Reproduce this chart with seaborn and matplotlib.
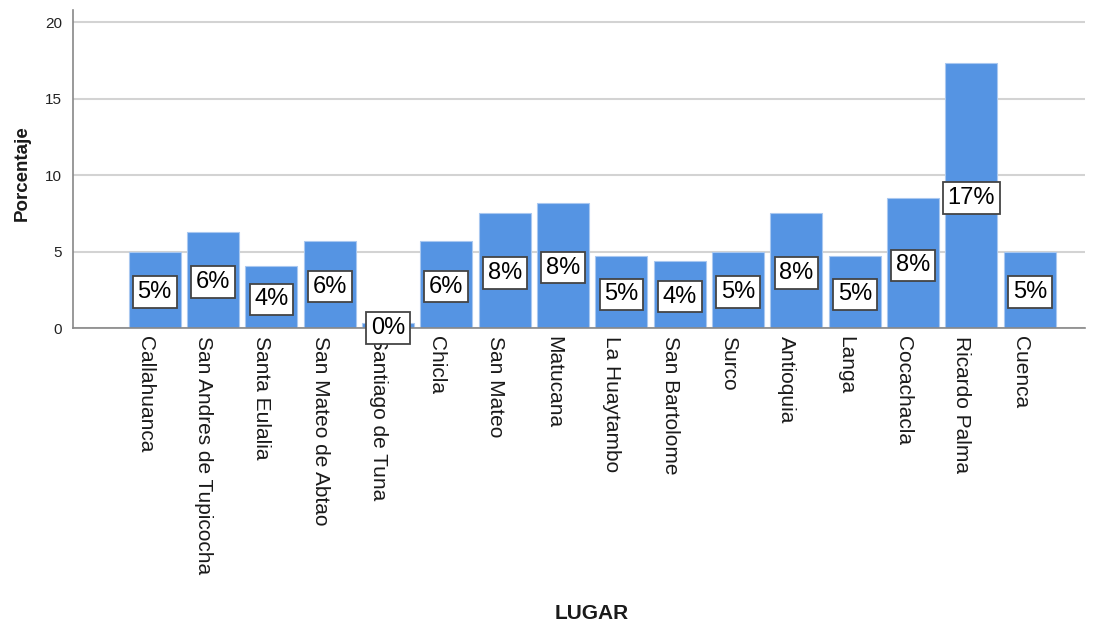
import numpy as np
import pandas as pd
import matplotlib
matplotlib.use('Agg')
import matplotlib.pyplot as plt
import seaborn as sns

# datos
lugares = ['Callahuanca', 'San Andres de Tupicocha', 'Santa Eulalia', 'San Mateo de Abtao',
           'Santiago de Tuna', 'Chicla', 'San Mateo', 'Matucana', 'La Huaytambo',
           'San Bartolome', 'Surco', 'Antioquia', 'Langa', 'Cocachacla', 'Ricardo Palma', 'Cuenca']
porcentaje = [5.0, 6.3, 4.05, 5.7, 0.3, 5.7, 7.5, 8.2, 4.7, 4.4, 5.0, 7.5, 4.7, 8.5, 17.3, 5.0]
etiquetas = ['5%', '6%', '4%', '6%', '0%', '6%', '8%', '8%', '5%', '4%', '5%', '8%', '5%', '8%', '17%', '5%']
yticks = [0, 5, 10, 15, 20]

df = pd.DataFrame({'LUGAR': lugares, 'Porcentaje': porcentaje})

sns.set_style('white')
plt.rcParams['font.family'] = ['Liberation Sans', 'DejaVu Sans']

fig = plt.figure(figsize=(11, 6.21), dpi=100)
ax = fig.add_axes([0.0664, 0.4718, 0.9196, 0.5122])

ax.set_axisbelow(True)
ax.yaxis.grid(True, color='#d3d3d3', linewidth=1.5)

sns.barplot(data=df, x='LUGAR', y='Porcentaje', color='#5594e3', width=0.89,
            edgecolor='#a9c8f0', linewidth=0.8, saturation=1, ax=ax)

for i, (v, t) in enumerate(zip(porcentaje, etiquetas)):
    ax.text(i, v / 2 - 0.15, t, ha='center', va='center', fontsize=17, color='black',
            bbox=dict(boxstyle='square,pad=0.2', fc='white', ec='#444444', lw=1.3))

ax.set_xlim(-1.4, 15.94)
ax.set_ylim(0, 20.8)
ax.set_yticks(yticks)
ax.tick_params(axis='y', labelsize=11, length=0, pad=8, colors='#222222')
ax.tick_params(axis='x', labelsize=15, length=0, pad=6)
ax.set_xticks(range(len(lugares)))
ax.set_xticklabels(lugares, rotation=270, ha='right', va='top', color='#1a1a1a')

for s in ['top', 'right']:
    ax.spines[s].set_visible(False)
for s in ['left', 'bottom']:
    ax.spines[s].set_color('#888888')
    ax.spines[s].set_linewidth(1.2)

ax.set_xlabel('LUGAR', fontsize=15, fontweight='bold', color='#1a1a1a')
ax.xaxis.set_label_coords(0.513, -0.868)
ax.xaxis.label.set_va('top')
ax.set_ylabel('Porcentaje', fontsize=13.5, fontweight='bold', color='#1a1a1a')
ax.yaxis.set_label_coords(-0.042, 0.487)

fig.savefig('out.png', dpi=100)
